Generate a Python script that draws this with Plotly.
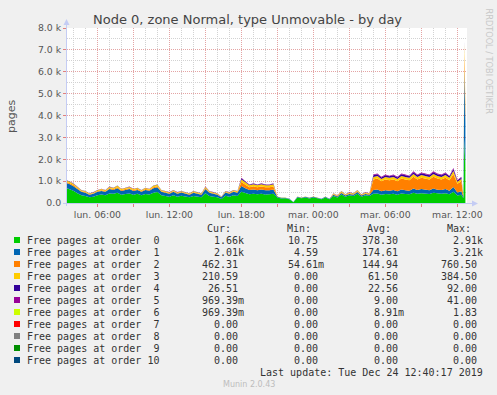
import plotly.graph_objects as go
import pandas as pd

# ---------------- data ----------------
SAMPLE_TIMES = list(pd.date_range("2019-12-23 03:20", "2019-12-24 12:20", freq="20min").strftime("%Y-%m-%d %H:%M")) + [
    "2019-12-24 12:30", "2019-12-24 12:35", "2019-12-24 12:40"]

ORDER0 = [700, 640, 560, 450, 350, 320, 260, 290, 360, 390, 350, 440, 420, 470, 380, 410, 440, 380, 420, 350,
          410, 390, 470, 500, 350, 320, 290, 360, 290, 330, 290, 260, 320, 290, 260, 450, 320, 290, 260, 180,
          330, 290, 360, 320,
          520, 460, 400, 420, 400, 420, 390, 400, 420,
          250, 210, 215, 170, 40, 255, 215, 255, 210, 250, 215, 170, 255, 170,
          320, 250, 390, 285, 350, 320, 420, 285, 350, 320,
          420, 440, 380, 410, 400, 420, 380, 440, 410, 400, 470, 420, 450, 440, 410, 470, 430, 420, 450, 400,
          520, 340, 380,
          220, 2910, 1660]
ORDER1 = [220, 230, 210, 190, 160, 150, 120, 130, 150, 160, 160, 200, 180, 210, 170, 190, 200, 170, 180, 160,
          190, 165, 210, 220, 160, 150, 135, 150, 135, 145, 135, 120, 150, 135, 120, 190, 150, 135, 120, 80,
          145, 135, 150, 150,
          260, 220, 190, 200, 185, 200, 190, 185, 200,
          35, 30, 25, 20, 10, 30, 25, 30, 30, 35, 25, 20, 30, 20,
          60, 50, 70, 55, 65, 60, 80, 55, 65, 60,
          170, 175, 160, 170, 165, 170, 155, 175, 170, 160, 190, 170, 185, 175, 170, 190, 175, 170, 185, 165,
          210, 135, 160,
          50, 3210, 2010]
ORDER2 = [50, 50, 50, 40, 30, 25, 20, 25, 30, 35, 30, 40, 35, 45, 35, 35, 40, 35, 35, 30,
          35, 35, 45, 50, 30, 25, 25, 30, 25, 25, 25, 20, 25, 25, 20, 40, 25, 25, 20, 10,
          25, 25, 30, 25,
          180, 160, 130, 140, 130, 140, 135, 130, 140,
          5, 5, 5, 5, 0, 5, 5, 5, 5, 5, 5, 5, 5, 5,
          25, 20, 35, 20, 30, 25, 40, 20, 30, 25,
          480, 500, 450, 490, 470, 480, 455, 500, 490, 475, 540, 480, 520, 500, 490, 540, 510, 480, 520, 470,
          590, 400, 450,
          20, 760, 462]
ORDER3 = [60, 60, 60, 50, 45, 40, 35, 40, 45, 50, 45, 55, 50, 60, 50, 50, 55, 50, 50, 45,
          50, 45, 60, 65, 45, 40, 35, 45, 35, 35, 35, 35, 40, 35, 35, 55, 40, 35, 35, 20,
          35, 35, 45, 40,
          120, 110, 90, 95, 95, 95, 95, 95, 95,
          10, 5, 5, 5, 0, 10, 5, 10, 5, 10, 5, 5, 10, 5,
          30, 20, 40, 30, 40, 30, 45, 30, 40, 30,
          120, 125, 110, 120, 115, 120, 110, 125, 120, 115, 130, 120, 130, 125, 120, 130, 125, 120, 130, 115,
          145, 95, 110,
          10, 385, 211]
ORDER4 = [15, 15, 15, 15, 10, 10, 10, 10, 10, 10, 10, 10, 10, 10, 10, 10, 10, 10, 10, 10,
          10, 10, 10, 10, 10, 10, 10, 10, 10, 10, 10, 10, 10, 10, 10, 10, 10, 10, 10, 5,
          10, 10, 10, 10,
          50, 35, 30, 35, 30, 35, 30, 30, 35,
          0, 0, 0, 0, 0, 0, 0, 0, 0, 0, 0, 0, 0, 0,
          10, 5, 10, 5, 10, 10, 10, 5, 10, 10,
          75, 75, 70, 75, 70, 75, 70, 75, 75, 70, 80, 75, 80, 75, 75, 80, 75, 75, 80, 70,
          90, 55, 70,
          0, 92, 27]
ORDER5 = [5, 5, 5, 5, 5, 5, 5, 5, 5, 5, 5, 5, 5, 5, 5, 5, 5, 5, 5, 5,
          5, 5, 5, 5, 5, 5, 5, 5, 5, 5, 5, 5, 5, 5, 5, 5, 5, 5, 5, 5,
          5, 5, 5, 5,
          20, 15, 10, 10, 10, 10, 10, 10, 10,
          0, 0, 0, 0, 0, 0, 0, 0, 0, 0, 0, 0, 0, 0,
          5, 5, 5, 5, 5, 5, 5, 5, 5, 5,
          35, 35, 30, 35, 30, 35, 30, 35, 35, 30, 40, 35, 35, 35, 35, 40, 35, 35, 35, 30,
          45, 25, 30,
          0, 41, 1]
ORDER6 = [0] * 101 + [2, 1]

SERIES = [ORDER0, ORDER1, ORDER2, ORDER3, ORDER4, ORDER5, ORDER6]
COLORS = ["#00CC00", "#0066B3", "#FF8000", "#FFCC00", "#330099", "#990099", "#CCFF00",
          "#FF0000", "#808080", "#008F00", "#00487D"]

LEGEND_LABELS = ["Free pages at order  %d" % k if k < 10 else "Free pages at order %d" % k for k in range(11)]
CUR = ["1.66k", "2.01k", "462.31", "210.59", "26.51", "969.39m", "969.39m", "0.00", "0.00", "0.00", "0.00"]
MIN = ["10.75", "4.59", "54.61m", "0.00", "0.00", "0.00", "0.00", "0.00", "0.00", "0.00", "0.00"]
AVG = ["378.30", "174.61", "144.94", "61.50", "22.56", "9.00", "8.91m", "0.00", "0.00", "0.00", "0.00"]
MAX = ["2.91k", "3.21k", "760.50", "384.50", "92.00", "41.00", "1.83", "0.00", "0.00", "0.00", "0.00"]

Y_TICKS = [0, 1000, 2000, 3000, 4000, 5000, 6000, 7000, 8000]
Y_TICKTEXT = ["0.0", "1.0 k", "2.0 k", "3.0 k", "4.0 k", "5.0 k", "6.0 k", "7.0 k", "8.0 k"]
X_TICKS = ["2019-12-23 06:00", "2019-12-23 09:00", "2019-12-23 12:00", "2019-12-23 15:00",
           "2019-12-23 18:00", "2019-12-23 21:00", "2019-12-24 00:00", "2019-12-24 03:00",
           "2019-12-24 06:00", "2019-12-24 09:00", "2019-12-24 12:00"]
X_TICKTEXT = ["lun. 06:00", "", "lun. 12:00", "", "lun. 18:00", "", "mar. 00:00", "",
              "mar. 06:00", "", "mar. 12:00"]

TITLE = "Node 0, zone Normal, type Unmovable - by day"
LAST_UPDATE = "Last update: Tue Dec 24 12:40:17 2019"

# ---------------- layout helpers ----------------
W, H = 497, 395
L, R, T, B = 67, 467, 28, 203


def fx(px):
    return (px - L) / (R - L)


def fy(py):
    return (B - py) / (B - T)


MONO = "DejaVu Sans Mono"
SANS = "DejaVu Sans"
TXT = "#333333"
NB = "\u00a0"

fig = go.Figure()
for k, vals in enumerate(SERIES):
    fig.add_trace(go.Scatter(
        x=SAMPLE_TIMES, y=vals, stackgroup="one", mode="lines",
        line=dict(width=0, color=COLORS[k]), fillcolor=COLORS[k],
        hoverinfo="skip", showlegend=False))

MAJ = "#E4A4A4"
MINC = "#D2D2D2"

fig.update_layout(
    width=W, height=H,
    margin=dict(l=L, r=W - R, t=T, b=H - B, pad=0),
    paper_bgcolor="#F0F0F0", plot_bgcolor="#FFFFFF",
    showlegend=False,
    xaxis=dict(
        type="date", range=["2019-12-23 03:28", "2019-12-24 12:48"],
        tickmode="array", tickvals=X_TICKS, ticktext=X_TICKTEXT,
        showgrid=True, gridcolor=MAJ, griddash="1px,1px", gridwidth=1,
        ticks="outside", ticklen=3, tickcolor="#E08080",
        tickfont=dict(family=SANS, size=9.33, color="#555555"),
        minor=dict(dtick=3600000, tick0="2019-12-23 00:00", showgrid=True,
                   gridcolor=MINC, griddash="1px,1px", ticks=""),
        showline=False, zeroline=False, fixedrange=True),
    yaxis=dict(
        range=[0, 8000], tickmode="array", tickvals=Y_TICKS, ticktext=Y_TICKTEXT,
        showgrid=True, gridcolor=MAJ, griddash="1px,1px", gridwidth=1,
        ticks="outside", ticklen=3, tickcolor="#E08080",
        tickfont=dict(family=SANS, size=9.33, color="#555555"),
        minor=dict(dtick=500, showgrid=True, gridcolor=MINC, griddash="1px,1px", ticks=""),
        showline=False, zeroline=False, fixedrange=True),
)

shapes = []
AX = "#C4CCF4"
# axes with arrows
shapes.append(dict(type="line", xref="paper", yref="paper", x0=fx(66.5), x1=fx(66.5), y0=fy(206), y1=fy(23),
                   line=dict(color=AX, width=1)))
shapes.append(dict(type="path", xref="paper", yref="paper",
                   path="M %f,%f L %f,%f L %f,%f Z" % (fx(63.5), fy(25), fx(66.5), fy(19), fx(69.5), fy(25)),
                   fillcolor=AX, line=dict(width=0)))
shapes.append(dict(type="line", xref="paper", yref="paper", x0=fx(63), x1=fx(473), y0=fy(203.5), y1=fy(203.5),
                   line=dict(color=AX, width=1)))
shapes.append(dict(type="path", xref="paper", yref="paper",
                   path="M %f,%f L %f,%f L %f,%f Z" % (fx(472), fy(200.5), fx(478), fy(203.5), fx(472), fy(206.5)),
                   fillcolor=AX, line=dict(width=0)))

ann = []


def add_text(text, px, py, size, color, family, xanchor="left", angle=0):
    ann.append(dict(text=text, x=fx(px), y=fy(py), xref="paper", yref="paper", showarrow=False,
                    xanchor=xanchor, yanchor="middle", textangle=angle, borderpad=0, borderwidth=0,
                    font=dict(size=size, color=color, family=family)))


add_text(TITLE, 247.5, 19, 13, "#444444", SANS, "center")
add_text("pages", 11, 116, 11, "#555555", SANS, "center", -90)
add_text("RRDTOOL / TOBI OETIKER", 488.5, 61, 8.2, "#C8C8C8", SANS, "center", 90)

# legend table
add_text("Cur:", 231, 228, 10, TXT, MONO, "right")
add_text("Min:", 311, 228, 10, TXT, MONO, "right")
add_text("Avg:", 391, 228, 10, TXT, MONO, "right")
add_text("Max:", 471, 228, 10, TXT, MONO, "right")


def fmt(v):
    return v if v[-1].isalpha() else v + NB


for i in range(11):
    cy = 240 + 12 * i
    shapes.append(dict(type="rect", xref="paper", yref="paper", x0=fx(14), x1=fx(20), y0=fy(cy - 3), y1=fy(cy + 3),
                       fillcolor=COLORS[i], line=dict(width=0)))
    add_text(LEGEND_LABELS[i].replace(" ", NB), 26.5, cy, 10, TXT, MONO, "left")
    add_text(fmt(CUR[i]), 244, cy, 10, TXT, MONO, "right")
    add_text(fmt(MIN[i]), 324, cy, 10, TXT, MONO, "right")
    add_text(fmt(AVG[i]), 403.5, cy, 10, TXT, MONO, "right")
    add_text(fmt(MAX[i]), 483, cy, 10, TXT, MONO, "right")

add_text(LAST_UPDATE.replace(" ", NB), 483, 372, 10, TXT, MONO, "right")
add_text("Munin 2.0.43", 249, 384, 8, "#BDBDBD", SANS, "center")

fig.update_layout(shapes=shapes, annotations=ann)
fig.write_html("out.html", config={"displayModeBar": False},
               post_script="document.body.style.margin='0';document.body.style.padding='0';document.body.style.overflow='hidden';")
